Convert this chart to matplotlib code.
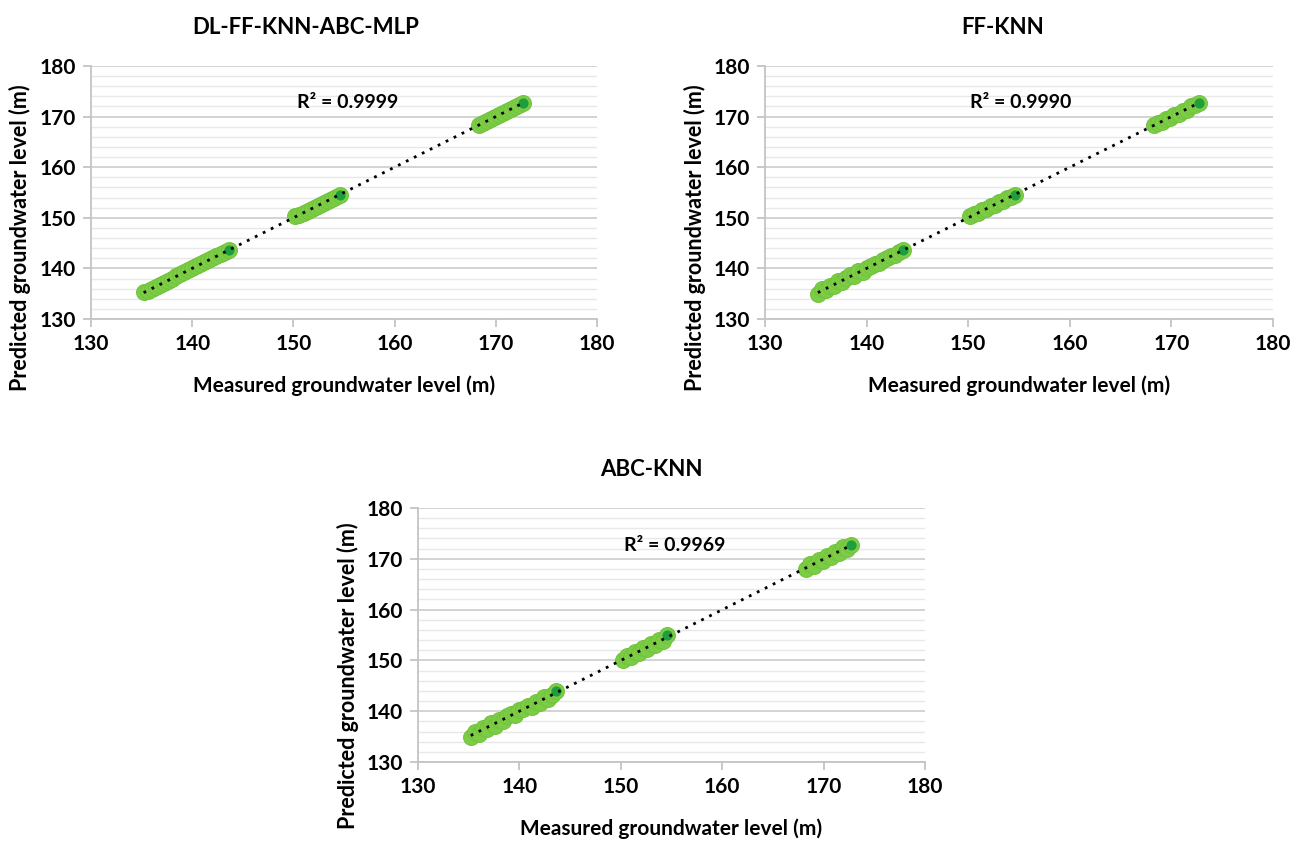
import numpy as np
import matplotlib
matplotlib.use("Agg")
from matplotlib import pyplot as plt
from matplotlib.ticker import MultipleLocator

plt.rcParams['font.family'] = ['Lato', 'DejaVu Sans']
plt.rcParams['font.weight'] = 'bold'

titles = ["DL-FF-KNN-ABC-MLP", "FF-KNN", "ABC-KNN"]
r2_labels = ["R² = 0.9999", "R² = 0.9990", "R² = 0.9969"]

measured = [135.2, 135.6, 136.0, 136.4, 136.8, 137.2, 137.6, 138.0, 138.4, 138.8,
            139.2, 139.6, 140.0, 140.4, 140.8, 141.2, 141.6, 142.0, 142.4, 142.8,
            143.2, 143.6,
            150.2, 150.6, 151.0, 151.4, 151.8, 152.2, 152.6, 153.0, 153.4, 153.8,
            154.2, 154.6,
            168.3, 168.7, 169.1, 169.5, 169.9, 170.3, 170.7, 171.1, 171.5, 171.9,
            172.3, 172.7]

pred_dl = [135.3, 135.6, 136.0, 136.4, 136.8, 137.2, 137.6, 138.0, 138.4, 138.8,
           139.2, 139.6, 140.0, 140.4, 140.8, 141.2, 141.6, 142.0, 142.4, 142.8,
           143.2, 143.6,
           150.3, 150.6, 151.0, 151.4, 151.8, 152.2, 152.6, 153.0, 153.4, 153.8,
           154.2, 154.6,
           168.3, 168.7, 169.1, 169.5, 169.9, 170.3, 170.7, 171.1, 171.5, 171.9,
           172.3, 172.7]

pred_ff = [135.0, 135.9, 135.7, 136.5, 136.6, 137.6, 137.3, 138.2, 138.7, 138.5,
           139.4, 139.3, 140.1, 140.4, 140.9, 141.0, 141.7, 142.0, 142.5, 142.7,
           143.2, 143.6,
           150.3, 150.7, 150.9, 151.6, 151.7, 152.4, 152.5, 153.1, 153.3, 153.9,
           154.1, 154.6,
           168.3, 168.8, 169.0, 169.6, 169.8, 170.4, 170.6, 171.2, 171.4, 172.0,
           172.2, 172.6]

pred_abc = [135.0, 135.9, 135.6, 136.7, 136.5, 137.6, 137.1, 138.3, 138.0, 139.0,
            139.5, 139.2, 140.3, 140.5, 141.1, 140.8, 141.9, 141.7, 142.8, 142.4,
            143.1, 144.0,
            150.0, 150.9, 150.6, 151.7, 151.4, 152.5, 152.2, 153.3, 153.0, 154.1,
            153.9, 155.0,
            168.0, 168.9, 168.6, 169.8, 169.5, 170.6, 170.4, 171.4, 171.2, 172.3,
            171.9, 172.8]

preds = [pred_dl, pred_ff, pred_abc]

W, H = 1306, 841
fig = plt.figure(figsize=(W / 100, H / 100), dpi=100)

# axes boxes in pixels: left, top, right, bottom
boxes = [(91, 66, 597, 319), (765, 66, 1273, 319), (418, 508, 925, 762)]
title_pos = [(306, 28), (1003, 28), (651, 470)]
ylabel_pos = [(20, 238), (695, 238), (348, 676)]
xlabel_pos = [(344, 386), (1019, 386), (671, 829)]
r2_pos = [(155.4, 172.8), (155.2, 172.8), (155.3, 172.6)]

for i in range(3):
    l, t, r, b = boxes[i]
    ax = fig.add_axes([l / W, 1 - b / H, (r - l) / W, (b - t) / H])
    x = np.array(measured)
    y = np.array(preds[i])

    ax.scatter(x, y, s=130, facecolor='#7ccd45', edgecolor='#72c43e',
               linewidth=0.8, zorder=3)
    # darker points at the top of each cluster
    ax.scatter(x[[21, 33, 45]], y[[21, 33, 45]], s=40, color='#1e9e3c', zorder=4)

    k, c = np.polyfit(x, y, 1)
    xs = np.array([x.min(), x.max()])
    ax.plot(xs, k * xs + c, color='black', linestyle=(0, (1, 2.2)),
            linewidth=2, zorder=5)

    ax.set_xlim(130, 180)
    ax.set_ylim(130, 180)
    ax.xaxis.set_major_locator(MultipleLocator(10))
    ax.yaxis.set_major_locator(MultipleLocator(10))
    ax.yaxis.set_minor_locator(MultipleLocator(2))
    ax.grid(axis='y', which='major', color='#d0d0d0', linewidth=1.3, zorder=0)
    ax.grid(axis='y', which='minor', color='#e8e8e8', linewidth=1.0, zorder=0)
    ax.set_axisbelow(True)
    for s in ['top', 'right']:
        ax.spines[s].set_visible(False)
    for s in ['left', 'bottom']:
        ax.spines[s].set_color('#c4c4c4')
        ax.spines[s].set_linewidth(1.3)
    ax.tick_params(axis='both', which='major', length=6, width=1.3,
                   color='#c4c4c4', labelsize=15, pad=5)
    ax.tick_params(axis='y', which='minor', length=0)
    for lab in ax.get_xticklabels() + ax.get_yticklabels():
        lab.set_fontweight('bold')

    ax.text(r2_pos[i][0], r2_pos[i][1], r2_labels[i], ha='center', va='center',
            fontsize=14, fontweight='bold')

    fig.text(xlabel_pos[i][0] / W, 1 - xlabel_pos[i][1] / H,
             "Measured groundwater level (m)",
             ha='center', va='center', fontsize=15, fontweight='bold')
    fig.text(ylabel_pos[i][0] / W, 1 - ylabel_pos[i][1] / H,
             "Predicted groundwater level (m)",
             rotation=90, ha='center', va='center', fontsize=15.5, fontweight='bold')
    fig.text(title_pos[i][0] / W, 1 - title_pos[i][1] / H, titles[i],
             ha='center', va='center', fontsize=16, fontweight='bold')

fig.savefig("out.png", dpi=100, facecolor='white')
